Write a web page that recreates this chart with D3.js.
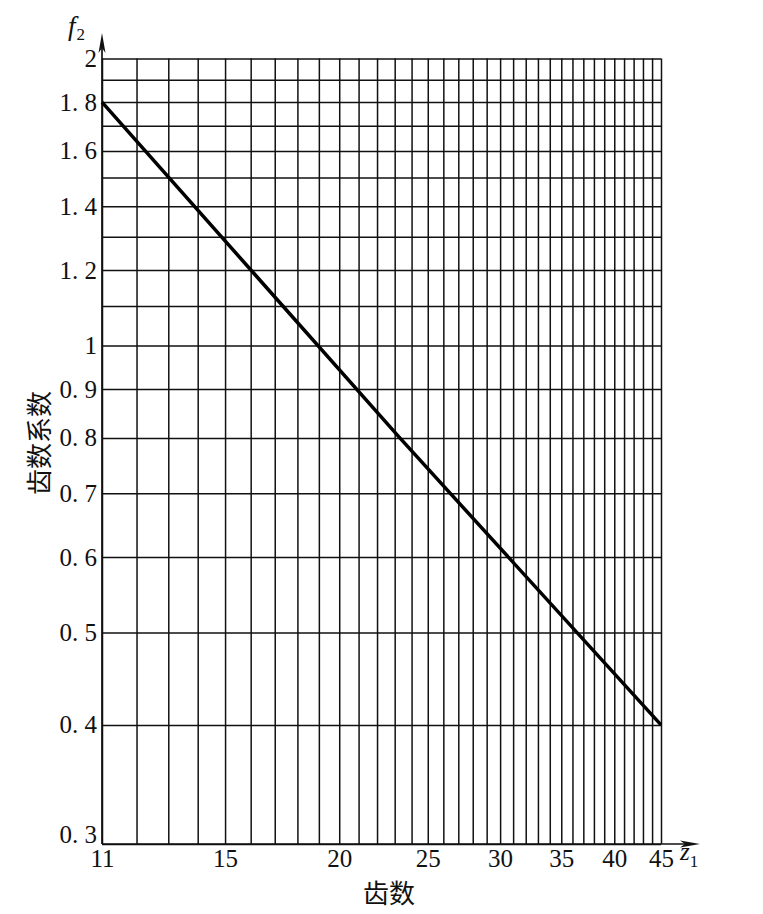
<!DOCTYPE html>
<html>
<head>
<meta charset="utf-8">
<script src="https://cdn.jsdelivr.net/npm/d3@7"></script>
<style>
  html, body { margin: 0; padding: 0; background: #fff; }
  svg { display: block; }
</style>
</head>
<body>
<svg id="chart"></svg>
<script>
// 齿数 z1 的网格线（每个整数一条）
const xGrid = [11, 12, 13, 14, 15, 16, 17, 18, 19, 20, 21, 22, 23, 24, 25, 26, 27, 28,
  29, 30, 31, 32, 33, 34, 35, 36, 37, 38, 39, 40, 41, 42, 43, 44, 45];
const xLabels = [11, 15, 20, 25, 30, 35, 40, 45];

// 齿数系数 f2 的网格线
const yGrid = [0.3, 0.4, 0.5, 0.6, 0.7, 0.8, 0.9, 1, 1.1, 1.2, 1.3, 1.4, 1.5, 1.6, 1.7, 1.8, 1.9, 2];
const yLabels = [0.3, 0.4, 0.5, 0.6, 0.7, 0.8, 0.9, 1, 1.2, 1.4, 1.6, 1.8, 2];

// 曲线读数（双对数坐标下是一条直线）
const teeth = [11, 23.3, 45];
const factor = [1.8, 0.8, 0.4];

const W = 763, H = 914;
const plotL = 102, plotR = 661, plotT = 58.5, plotB = 844;

const svg = d3.select("#chart").attr("width", W).attr("height", H);

const x = d3.scaleLog().domain([11, 45]).range([plotL, plotR]);
const y = d3.scaleLog().domain([0.3, 2]).range([plotB, plotT]);

const serif = "'Liberation Serif', 'DejaVu Serif', serif";
const cjk = "'Noto Sans CJK SC', sans-serif";
const fmt = d => String(d).replace(".", ". ");

// 竖向网格 + x 刻度
const gx = svg.append("g")
  .attr("transform", `translate(0,${plotB})`)
  .call(d3.axisBottom(x)
    .tickValues(xGrid)
    .tickSize(-(plotB - plotT))
    .tickPadding(5)
    .tickFormat(d => xLabels.includes(d) ? d : ""));

// 横向网格 + y 刻度
const gy = svg.append("g")
  .attr("transform", `translate(${plotL},0)`)
  .call(d3.axisLeft(y)
    .tickValues(yGrid)
    .tickSize(-(plotR - plotL))
    .tickPadding(5)
    .tickFormat(d => yLabels.includes(d) ? fmt(d) : ""));

[gx, gy].forEach(g => {
  g.select(".domain").remove();
  g.selectAll(".tick line").attr("stroke", "#111").attr("stroke-width", 1.5);
  g.selectAll(".tick text")
    .attr("fill", "#111")
    .style("font-family", serif)
    .style("font-size", "25px");
});

// 0.3 的标注抬高一点，避开 11
gy.selectAll(".tick text").filter(d => d === 0.3).attr("y", -10);

// 坐标轴 + 箭头
svg.append("line")
  .attr("x1", plotL).attr("y1", plotB).attr("x2", plotL).attr("y2", 40)
  .attr("stroke", "#111").attr("stroke-width", 1.7);
svg.append("path")
  .attr("d", `M${plotL - 3.5},53 L${plotL},33 L${plotL + 3.5},53 L${plotL},48 Z`)
  .attr("fill", "#111");

svg.append("line")
  .attr("x1", plotL).attr("y1", plotB).attr("x2", 693).attr("y2", plotB)
  .attr("stroke", "#111").attr("stroke-width", 1.7);
svg.append("path")
  .attr("d", `M680,${plotB - 3.5} L700,${plotB} L680,${plotB + 3.5} L685,${plotB} Z`)
  .attr("fill", "#111");

// 曲线
const line = d3.line()
  .x((d, i) => x(teeth[i]))
  .y(d => y(d));

svg.append("path")
  .datum(factor)
  .attr("d", line)
  .attr("fill", "none")
  .attr("stroke", "#000")
  .attr("stroke-width", 3.5)
  .attr("stroke-linecap", "butt");

// 轴名称
const f2 = svg.append("text")
  .attr("x", 68).attr("y", 35)
  .style("font-family", serif).style("font-size", "27px").attr("fill", "#111");
f2.append("tspan").style("font-style", "italic").text("f");
f2.append("tspan").attr("dy", 5).attr("dx", 1).style("font-size", "17px").text("2");

const z1 = svg.append("text")
  .attr("x", 680).attr("y", 860)
  .style("font-family", serif).style("font-size", "25px").attr("fill", "#111");
z1.append("tspan").style("font-style", "italic").text("z");
z1.append("tspan").attr("dy", 7).attr("dx", 0).style("font-size", "17px").text("1");

svg.append("text")
  .attr("x", 389).attr("y", 891)
  .attr("text-anchor", "middle")
  .attr("dominant-baseline", "central")
  .style("font-family", cjk).style("font-size", "26px").attr("fill", "#111")
  .text("齿数");

svg.append("text")
  .attr("transform", "translate(37,443) rotate(-90)")
  .attr("text-anchor", "middle")
  .attr("dominant-baseline", "central")
  .style("font-family", cjk).style("font-size", "26px").attr("fill", "#111")
  .text("齿数系数");
</script>
</body>
</html>
